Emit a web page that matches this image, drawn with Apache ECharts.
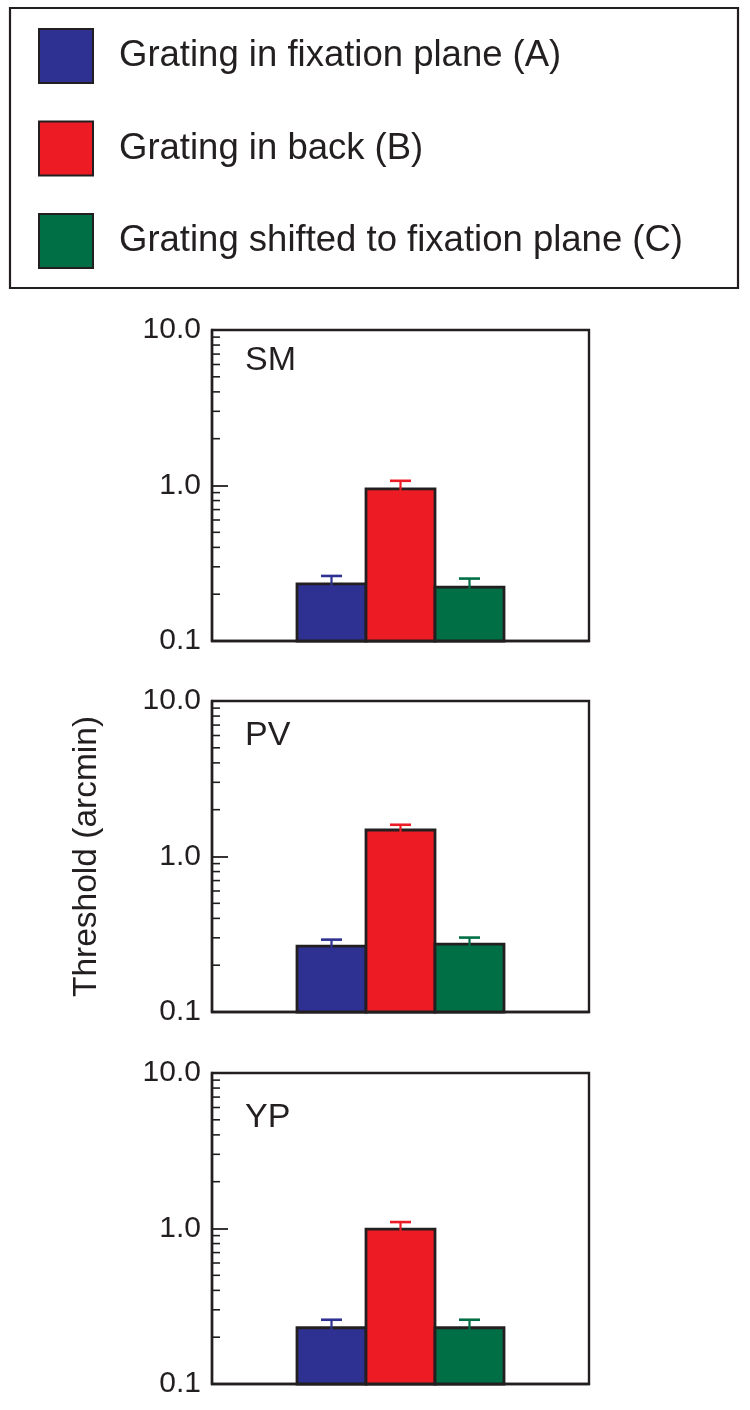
<!DOCTYPE html>
<html><head><meta charset="utf-8">
<script src="https://cdn.jsdelivr.net/npm/echarts@6/dist/echarts.min.js"></script>
<style>html,body{margin:0;padding:0;background:#fff}#c{width:750px;height:1410px}</style>
</head><body><div id="c"></div>
<script>
// ---------- data ----------
const subjects = ['SM', 'PV', 'YP'];
const conditions = ['Grating in fixation plane (A)', 'Grating in back (B)', 'Grating shifted to fixation plane (C)'];
const fixationPlane = [0.233, 0.265, 0.230];
const fixationPlaneUpper = [0.262, 0.292, 0.259];
const back = [0.952, 1.48, 0.99];
const backUpper = [1.072, 1.60, 1.10];
const shifted = [0.222, 0.273, 0.230];
const shiftedUpper = [0.252, 0.301, 0.259];
const yTickValues = [0.1, 1, 10];
const yTickLabels = ['0.1', '1.0', '10.0'];
const minorTickValues = [0.2, 0.3, 0.4, 0.5, 0.6, 0.7, 0.8, 0.9, 2, 3, 4, 5, 6, 7, 8, 9];
const yAxisTitle = 'Threshold (arcmin)';

// ---------- style / layout ----------
const colors = ['#2E3192', '#ED1C24', '#006F45'];
const INK = '#231F20';
const FONT = "'Liberation Sans', Arial, Helvetica, sans-serif";
const values = [fixationPlane, back, shifted];
const uppers = [fixationPlaneUpper, backUpper, shiftedUpper];
const BAR_W = 69, CAP_W = 21;
const panelTops = [330, 701, 1073];
const panelHeight = 311;
const labelTops = [344, 719, 1101];

function barRenderer(k) {
  return function (params, api) {
    const cat = api.value(0);
    const base = api.coord([cat, yTickValues[0]]);
    const top = api.coord([cat, api.value(1)]);
    const up = api.coord([cat, api.value(2)]);
    const cx = base[0] + (k - 1) * BAR_W;
    const color = api.visual('color');
    return {
      type: 'group',
      children: [
        { type: 'rect', shape: { x: cx - BAR_W / 2, y: top[1], width: BAR_W, height: base[1] - top[1] },
          style: { fill: color, stroke: INK, lineWidth: 2.8 } },
        { type: 'line', shape: { x1: cx, y1: top[1] + 2, x2: cx, y2: up[1] },
          style: { stroke: color, lineWidth: 2.2 } },
        { type: 'line', shape: { x1: cx - CAP_W / 2, y1: up[1], x2: cx + CAP_W / 2, y2: up[1] },
          style: { stroke: color, lineWidth: 2.6 } }
      ]
    };
  };
}

function minorTickRenderer(params, api) {
  const y = api.coord([0, api.value(1)])[1];
  const x0 = params.coordSys.x;
  return { type: 'line', shape: { x1: x0, y1: y, x2: x0 + 8, y2: y }, style: { stroke: INK, lineWidth: 1.6 } };
}

const grids = [], xAxes = [], yAxes = [], series = [], titles = [];
subjects.forEach((s, p) => {
  grids.push({ left: 212, width: 377, top: panelTops[p], height: panelHeight,
    show: true, borderColor: INK, borderWidth: 2.4, backgroundColor: 'transparent' });
  xAxes.push({ type: 'category', gridIndex: p, data: [s], boundaryGap: true,
    axisLine: { show: true, lineStyle: { color: INK, width: 2.4 } },
    axisTick: { show: false }, axisLabel: { show: false }, splitLine: { show: false } });
  yAxes.push({ type: 'log', logBase: 10, gridIndex: p, min: yTickValues[0], max: yTickValues[yTickValues.length - 1], interval: 1,
    axisLine: { show: true, lineStyle: { color: INK, width: 2.4 } },
    axisTick: { show: true, inside: true, length: 16, lineStyle: { color: INK, width: 1.8 } },
    axisLabel: { fontSize: 30, color: INK, fontFamily: FONT, margin: 11,
      formatter: v => { const i = yTickValues.findIndex(t => Math.abs(t - v) < 1e-6 * t); return i >= 0 ? yTickLabels[i] : ''; } },
    splitLine: { show: false }, minorTick: { show: false },
    name: p === 1 ? yAxisTitle : '', nameLocation: 'middle', nameGap: 108,
    nameTextStyle: { fontSize: 33.5, color: INK, fontFamily: FONT } });
  titles.push({ text: s, left: 245, top: labelTops[p], padding: 0,
    textStyle: { fontSize: 34, fontWeight: 'normal', color: INK, fontFamily: FONT } });
  conditions.forEach((c, k) => {
    series.push({ type: 'custom', name: c, xAxisIndex: p, yAxisIndex: p,
      itemStyle: { color: colors[k] }, encode: { x: 0, y: [1, 2] },
      renderItem: barRenderer(k), data: [[0, values[k][p], uppers[k][p]]], z: 3 });
  });
  series.push({ type: 'custom', name: 'minor' + p, xAxisIndex: p, yAxisIndex: p, silent: true,
    encode: { x: 0, y: 1 }, renderItem: minorTickRenderer,
    data: minorTickValues.map(v => [0, v]), z: 4 });
});

const chart = echarts.init(document.getElementById('c'), null, { renderer: 'canvas' });
chart.setOption({
  backgroundColor: '#fff',
  animation: false,
  title: titles,
  legend: {
    orient: 'vertical', left: 10, top: 8, padding: [20, 55, 19, 28],
    borderColor: INK, borderWidth: 2.2, selectedMode: false,
    icon: 'rect', itemWidth: 54, itemHeight: 54, itemGap: 36.5,
    itemStyle: { borderColor: INK, borderWidth: 2 },
    textStyle: { fontSize: 36.5, color: INK, fontFamily: FONT, padding: [0, 0, 0, 21] },
    data: conditions
  },
  grid: grids, xAxis: xAxes, yAxis: yAxes, series: series
});
</script></body></html>
